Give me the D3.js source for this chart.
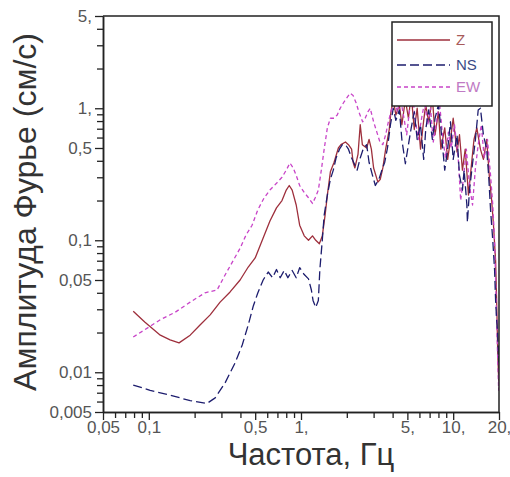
<!DOCTYPE html>
<html><head><meta charset="utf-8">
<script src="https://cdn.jsdelivr.net/npm/d3@7/dist/d3.min.js"></script>
<style>
html,body{margin:0;padding:0;background:#fff;}
svg{display:block;font-family:"Liberation Sans",Arial,sans-serif;}
</style></head>
<body><svg id="c" width="510" height="477"></svg>
<script>
// ---- data (frequency, Hz / Fourier amplitude, cm/s) ----
const seriesNames = ["Z", "NS", "EW"];

const zFreq = [0.079,0.094,0.119,0.138,0.158,0.187,0.217,0.253,0.294,0.342,0.398,0.45,0.5,0.564,0.625,0.69,0.75,0.8,0.837,0.875,0.93,0.98,1.05,1.12,1.19,1.25,1.32,1.38,1.44,1.49,1.56,1.65,1.76,1.83,1.96,2.05,2.15,2.2,2.26,2.37,2.45,2.53,2.7,2.8,2.9,3.0,3.2,3.32,3.45,3.6,3.8,3.9,4.04,4.2,4.43,4.6,4.85,5.08,5.3,5.55,5.8,6.1,6.4,6.6,6.9,7.3,7.6,8.0,8.3,8.8,9.2,9.6,10.0,10.6,11.0,11.5,12.0,12.6,13.2,13.7,14.3,15.1,15.8,16.6,17.3,17.9,18.4,19.0,19.3,19.6,19.9,20];
const zAmp  = [0.029,0.024,0.0191,0.0176,0.0167,0.0191,0.0228,0.0272,0.034,0.0406,0.05,0.0627,0.0735,0.104,0.14,0.176,0.2,0.24,0.26,0.24,0.185,0.13,0.108,0.1,0.108,0.1,0.094,0.108,0.155,0.22,0.33,0.39,0.5,0.53,0.555,0.53,0.49,0.39,0.353,0.45,0.75,0.53,0.5,0.58,0.49,0.353,0.276,0.29,0.353,0.49,0.69,0.94,1.16,0.89,1.06,0.75,1.16,0.84,1.26,0.69,1.0,0.49,0.81,1.06,0.79,1.2,0.63,0.94,0.49,0.71,0.41,0.58,0.84,0.466,0.63,0.34,0.49,0.22,0.38,0.58,0.71,0.49,0.41,0.58,0.3,0.2,0.13,0.07,0.035,0.015,0.0087,0.012];

const nsFreq = [0.079,0.102,0.138,0.187,0.241,0.273,0.317,0.369,0.411,0.45,0.486,0.52,0.564,0.609,0.65,0.69,0.73,0.776,0.82,0.875,0.93,0.98,1.05,1.12,1.17,1.2,1.25,1.3,1.33,1.38,1.42,1.49,1.56,1.63,1.7,1.79,1.87,1.96,2.05,2.15,2.24,2.34,2.45,2.56,2.7,2.8,2.95,3.08,3.25,3.4,3.55,3.7,3.87,4.04,4.2,4.43,4.6,4.85,5.08,5.3,5.55,5.8,6.1,6.4,6.6,6.9,7.3,7.6,8.0,8.3,8.8,9.2,9.6,10.0,10.6,11.0,11.5,11.8,12.3,12.4,12.8,13.4,14.0,14.6,15.1,15.8,16.6,17.1,17.6,18.2,18.7,19.0,19.3,19.6,19.9,20];
const nsAmp  = [0.008,0.0073,0.0067,0.0061,0.0058,0.0064,0.0083,0.0118,0.0161,0.0228,0.0318,0.0399,0.05,0.0575,0.052,0.06,0.052,0.059,0.052,0.059,0.052,0.062,0.055,0.051,0.042,0.035,0.031,0.035,0.06,0.1,0.155,0.22,0.29,0.34,0.42,0.49,0.53,0.53,0.49,0.42,0.38,0.34,0.42,0.49,0.53,0.39,0.31,0.26,0.29,0.34,0.39,0.5,0.75,1.0,0.81,0.97,0.58,0.38,0.53,0.71,0.94,0.58,0.75,0.41,0.69,0.97,0.58,0.84,1.06,0.71,0.34,0.49,0.79,0.41,0.63,0.31,0.24,0.34,0.185,0.137,0.24,0.38,0.58,0.97,1.0,0.63,0.49,0.31,0.17,0.1,0.06,0.035,0.025,0.0198,0.012,0.016];

const ewFreq = [0.079,0.094,0.119,0.149,0.187,0.234,0.281,0.317,0.353,0.398,0.436,0.477,0.52,0.573,0.625,0.69,0.75,0.8,0.846,0.889,0.93,0.98,1.05,1.12,1.19,1.24,1.3,1.36,1.42,1.49,1.56,1.65,1.73,1.81,1.92,2.0,2.1,2.2,2.3,2.4,2.54,2.64,2.75,2.85,3.0,3.15,3.3,3.45,3.6,3.75,3.9,4.1,4.3,4.5,4.75,4.95,5.15,5.4,5.65,5.9,6.2,6.5,6.8,7.1,7.4,7.8,8.1,8.5,8.9,9.3,9.7,10.2,10.8,11.2,11.7,12.2,12.8,13.4,14.0,14.6,15.3,16.0,16.8,17.6,18.2,18.7,19.0,19.3,19.6,19.9,20];
const ewAmp  = [0.0185,0.021,0.025,0.0285,0.034,0.04,0.042,0.0546,0.068,0.087,0.11,0.13,0.17,0.21,0.24,0.27,0.3,0.34,0.385,0.353,0.31,0.26,0.23,0.21,0.19,0.21,0.24,0.34,0.49,0.71,0.84,0.84,0.89,1.0,1.12,1.2,1.3,1.25,1.1,0.94,0.79,0.84,0.94,1.0,0.79,0.66,0.555,0.53,0.63,0.79,0.94,1.16,0.94,1.2,0.84,0.63,0.94,1.26,0.81,0.58,0.84,1.12,0.75,1.0,0.555,0.81,1.16,0.63,0.42,0.66,0.5,0.75,0.41,0.2,0.3,0.49,0.26,0.185,0.353,0.53,0.75,0.42,0.58,0.31,0.185,0.1,0.05,0.025,0.013,0.0073,0.01];

const xMajorTicks = [0.05, 0.1, 0.5, 1, 5, 10, 20];
const xTickLabels = ["0,05", "0,1", "0,5", "1,", "5,", "10,", "20,"];
const xMinorTicks = [0.06,0.07,0.08,0.09,0.2,0.3,0.4,0.6,0.7,0.8,0.9,2,3,4,6,7,8,9];
const yMajorTicks = [5, 1, 0.5, 0.1, 0.05, 0.01, 0.005];
const yTickLabels = ["5,", "1,", "0,5", "0,1", "0,05", "0,01", "0,005"];
const yMinorTicks = [4,3,2,0.9,0.8,0.7,0.6,0.4,0.3,0.2,0.09,0.08,0.07,0.06,0.04,0.03,0.02,0.009,0.008,0.007,0.006];

const xTitle = "Частота, Гц";
const yTitle = "Амплитуда Фурье (см/с)";

// ---- drawing ----
const svg = d3.select("#c");
const L = 103, R = 499, T = 16, B = 412;
const x = d3.scaleLog().domain([0.05, 20]).range([L, R]);
const y = d3.scaleLog().domain([0.005, 5]).range([B, T]);

svg.append("defs").append("clipPath").attr("id","clip")
  .append("rect").attr("x",L).attr("y",T).attr("width",R-L).attr("height",B-T);

const series = [
  {name:"Z",  f:zFreq,  a:zAmp,  color:"#9e2f3c", dash:null,  text:"#a85a5a"},
  {name:"EW", f:ewFreq, a:ewAmp, color:"#c844c8", dash:"4,3", text:"#c07ac4"},
  {name:"NS", f:nsFreq, a:nsAmp, color:"#1d1d6e", dash:"9,4", text:"#3a4a86"}
];
const line = d3.line().x(d=>x(d[0])).y(d=>y(d[1]));
const g = svg.append("g").attr("clip-path","url(#clip)");
series.forEach(s=>{
  const pts = s.f.map((f,i)=>[f, s.a[i]]);
  g.append("path").datum(pts).attr("d", line)
    .attr("fill","none").attr("stroke", s.color).attr("stroke-width",1.3)
    .attr("stroke-linejoin","round")
    .attr("stroke-dasharray", s.dash);
});

// axes
const axCol = "#222";
function styleAxis(sel){
  sel.selectAll(".domain").attr("stroke", axCol).attr("stroke-width",1.5);
  sel.selectAll(".tick line").attr("stroke", axCol).attr("stroke-width",1.3);
  sel.selectAll("text").attr("fill","#555").attr("font-size","17px")
     .attr("font-family",'"Liberation Sans",Arial,sans-serif');
}
const xa = svg.append("g").attr("transform",`translate(0,${B})`)
  .call(d3.axisBottom(x).tickValues(xMajorTicks).tickSize(8).tickSizeOuter(0).tickPadding(1)
    .tickFormat((d,i)=>xTickLabels[i]));
styleAxis(xa);
const xm = svg.append("g").attr("transform",`translate(0,${B})`)
  .call(d3.axisBottom(x).tickValues(xMinorTicks).tickSize(6).tickSizeOuter(0).tickFormat(""));
styleAxis(xm);
const ya = svg.append("g").attr("transform",`translate(${L},0)`)
  .call(d3.axisLeft(y).tickValues(yMajorTicks).tickSize(8).tickSizeOuter(0).tickPadding(3)
    .tickFormat((d,i)=>yTickLabels[i]));
styleAxis(ya);
const ym = svg.append("g").attr("transform",`translate(${L},0)`)
  .call(d3.axisLeft(y).tickValues(yMinorTicks).tickSize(6).tickSizeOuter(0).tickFormat(""));
styleAxis(ym);

// frame top/right
svg.append("path").attr("d",`M${L},${T}H${R}V${B}`).attr("fill","none")
  .attr("stroke",axCol).attr("stroke-width",1.5);

// titles
svg.append("text").attr("x",311).attr("y",465).attr("text-anchor","middle")
  .attr("font-size","31px").attr("fill","#333").text(xTitle);
svg.append("text").attr("transform","translate(36,212) rotate(-90)").attr("text-anchor","middle")
  .attr("font-size","32px").attr("fill","#333").text(yTitle);

// legend
const lg = svg.append("g");
lg.append("rect").attr("x",392).attr("y",22).attr("width",100).attr("height",84)
  .attr("fill","#fff").attr("stroke","#222").attr("stroke-width",1.5);
const legendOrder = ["Z","NS","EW"];
const ly = [40, 65, 87];
legendOrder.forEach((n,i)=>{
  const s = series.find(d=>d.name===n);
  lg.append("line").attr("x1",397).attr("x2",450).attr("y1",ly[i]).attr("y2",ly[i])
    .attr("stroke",s.color).attr("stroke-width",1.5).attr("stroke-dasharray",s.dash);
  lg.append("text").attr("x",456).attr("y",ly[i]+5).attr("font-size","15px")
    .attr("fill",s.text).text(n);
});
</script></body></html>
